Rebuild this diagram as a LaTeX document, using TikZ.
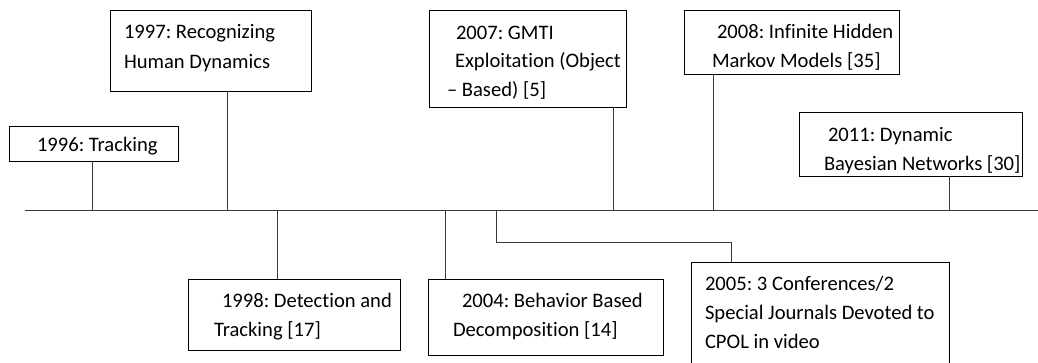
\documentclass[tikz,border=0pt]{standalone}
\usepackage{fontspec}
\setmainfont{Carlito}[Ligatures=NoCommon]
\frenchspacing
\begin{document}
\begin{tikzpicture}[x=1pt,y=-1pt,
  box/.style={draw=black,line width=1pt,rectangle,inner sep=0pt,outer sep=0pt,fill=none},
  txt/.style={anchor=base west,inner sep=0pt,outer sep=0pt,font=\fontsize{20.6}{29}\selectfont},
  conn/.style={draw=black!78,line width=1pt}]
\useasboundingbox (0,0) rectangle (1038,362);
% main line
\coordinate (L0) at (25,210);
\coordinate (L1) at (1038,210);
\draw[conn] (L0) -- (L1);
% boxes
\node[box,minimum width=169pt,minimum height=35pt] (b96) at (93.5,143.5) {};
\node[box,minimum width=201pt,minimum height=81pt] (b97) at (210.5,50.5) {};
\node[box,minimum width=197pt,minimum height=97pt] (b07) at (527.5,58.5) {};
\node[box,minimum width=215pt,minimum height=64pt] (b08) at (791.5,42) {};
\node[box,minimum width=223pt,minimum height=64pt] (b11) at (910.5,144) {};
\node[box,minimum width=212pt,minimum height=71pt] (b98) at (294,314.5) {};
\node[box,minimum width=235pt,minimum height=76pt] (b04) at (545.5,317) {};
\node[box,minimum width=258pt,minimum height=113pt] (b05) at (820,318.5) {};
% stem points on the main line
\coordinate (t96) at (92,210);
\coordinate (t97) at (227,210);
\coordinate (t98) at (277,210);
\coordinate (t04) at (445,210);
\coordinate (t05) at (496,210);
\coordinate (t07) at (613,210);
\coordinate (t08) at (713,210);
\coordinate (t11) at (949,210);
\coordinate (k05) at (731,242);
% connectors
\draw[conn] (t96) -- (t96 |- b96.south);
\draw[conn] (t97) -- (t97 |- b97.south);
\draw[conn] (t07) -- (t07 |- b07.south);
\draw[conn] (t08) -- (t08 |- b08.south);
\draw[conn] (t11) -- (t11 |- b11.south);
\draw[conn] (t98) -- (t98 |- b98.north);
\draw[conn] (t04) -- (t04 |- b04.north);
\draw[conn] (t05) |- (k05) -- (k05 |- b05.north);
% texts
\node[txt] (x96a) at (37,151) {1996: Tracking};
\node[txt] (x97a) at (124,38) {1997: Recognizing};
\node[txt] (x97b) at (124,68) {Human Dynamics};
\node[txt] (x07a) at (456,39) {2007: GMTI};
\node[txt] (x07b) at (455,67) {Exploitation (Object};
\node[txt] (x07c) at (447,96) {– Based) [5]};
\node[txt] (x08a) at (717,38) {2008: Infinite Hidden};
\node[txt] (x08b) at (712,67) {Markov Models [35]};
\node[txt] (x11a) at (828,141) {2011: Dynamic};
\node[txt] (x11b) at (824,170) {Bayesian Networks [30]};
\node[txt] (x98a) at (222,307) {1998: Detection and};
\node[txt] (x98b) at (214,336) {Tracking [17]};
\node[txt] (x04a) at (462,307) {2004: Behavior Based};
\node[txt] (x04b) at (453,336) {Decomposition [14]};
\node[txt] (x05a) at (705,290) {2005: 3 Conferences/2};
\node[txt] (x05b) at (705,319) {Special Journals Devoted to};
\node[txt] (x05c) at (705,348) {CPOL in video};
\end{tikzpicture}
\end{document}
